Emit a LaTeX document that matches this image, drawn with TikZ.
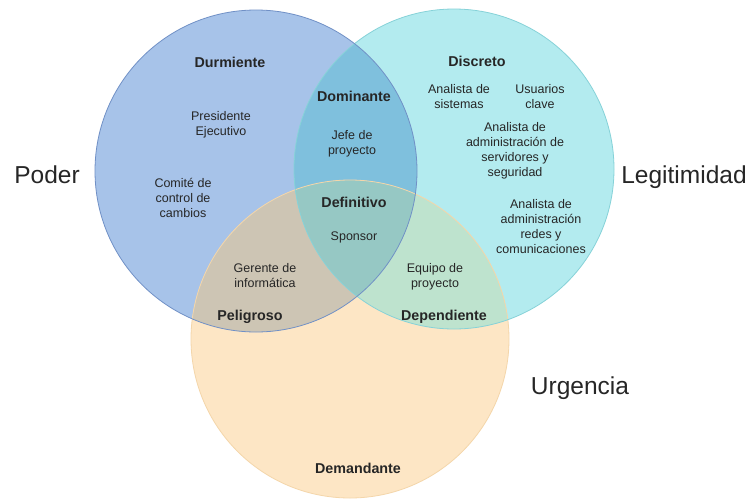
\documentclass[tikz,border=0pt]{standalone}
\usepackage{fontspec}
\setmainfont{Liberation Sans}
\definecolor{bluefill}{HTML}{A7C3E9}
\definecolor{blueline}{HTML}{7090C6}
\definecolor{tealfill}{HTML}{B3EBEF}
\definecolor{tealline}{HTML}{86D2D8}
\definecolor{orfill}{HTML}{FDE6C5}
\definecolor{orline}{HTML}{F4D6AA}
\definecolor{btfill}{HTML}{7FC0DD}
\definecolor{bofill}{HTML}{CDC5B4}
\definecolor{tofill}{HTML}{BEE3CE}
\definecolor{btofill}{HTML}{96C8C4}
\definecolor{txt}{HTML}{262626}
\tikzset{
  cat/.style={anchor=base, font=\fontsize{14.3}{16}\selectfont\bfseries, text=txt, inner sep=0pt},
  item/.style={anchor=base, font=\fontsize{12.5}{15}\selectfont, text=txt, align=center, inner sep=0pt},
  big/.style={anchor=base, font=\fontsize{24.5}{28}\selectfont, text=txt, inner sep=0pt}
}
\begin{document}
\begin{tikzpicture}[x=1pt,y=-1pt]
\useasboundingbox (0,0) rectangle (750,501);
\fill[white] (0,0) rectangle (750,501);
\coordinate (B) at (256,171);
\coordinate (T) at (454,169);
\coordinate (O) at (350,339);
\def\rB{161pt}\def\rT{160pt}\def\rO{159pt}
\fill[bluefill] (B) circle[radius=\rB];
\fill[tealfill] (T) circle[radius=\rT];
\fill[orfill] (O) circle[radius=\rO];
\begin{scope}\clip (B) circle[radius=\rB]; \fill[btfill] (T) circle[radius=\rT];\end{scope}
\begin{scope}\clip (B) circle[radius=\rB]; \fill[bofill] (O) circle[radius=\rO];\end{scope}
\begin{scope}\clip (T) circle[radius=\rT]; \fill[tofill] (O) circle[radius=\rO];\end{scope}
\begin{scope}\clip (B) circle[radius=\rB]; \clip (T) circle[radius=\rT]; \fill[btofill] (O) circle[radius=\rO];\end{scope}
\draw[orline, line width=0.8pt] (O) circle[radius=\rO];
\draw[tealline, line width=0.8pt] (T) circle[radius=\rT];
\draw[blueline, line width=0.8pt] (B) circle[radius=\rB];
% big labels
\node[big] (poder) at (47,183) {Poder};
\node[big] (legit) at (684,183) {Legitimidad};
\node[big] (urg) at (580,394) {Urgencia};
% categories
\node[cat] (durm) at (230,67) {Durmiente};
\node[cat] (disc) at (477,66) {Discreto};
\node[cat] (domi) at (354,101) {Dominante};
\node[cat] (defi) at (354,207) {Definitivo};
\node[cat] (peli) at (250,320) {Peligroso};
\node[cat] (depe) at (444,320) {Dependiente};
\node[cat] (dema) at (358,473) {Demandante};
% items (anchor base = baseline of last line)
\node[item] (pres) at (221,135) {Presidente\\Ejecutivo};
\node[item] (comi) at (183,217) {Comité de\\control de\\cambios};
\node[item] (jefe) at (352,154) {Jefe de\\proyecto};
\node[item] (spon) at (354,240) {Sponsor};
\node[item] (asis) at (459,108) {Analista de\\sistemas};
\node[item] (usua) at (540,108) {Usuarios\\clave};
\node[item] (aser) at (515,176) {Analista de\\administración de\\servidores y\\seguridad};
\node[item] (ared) at (541,253) {Analista de\\administración\\redes y\\comunicaciones};
\node[item] (gere) at (265,287) {Gerente de\\informática};
\node[item] (equi) at (435,287) {Equipo de\\proyecto};
\end{tikzpicture}
\end{document}
